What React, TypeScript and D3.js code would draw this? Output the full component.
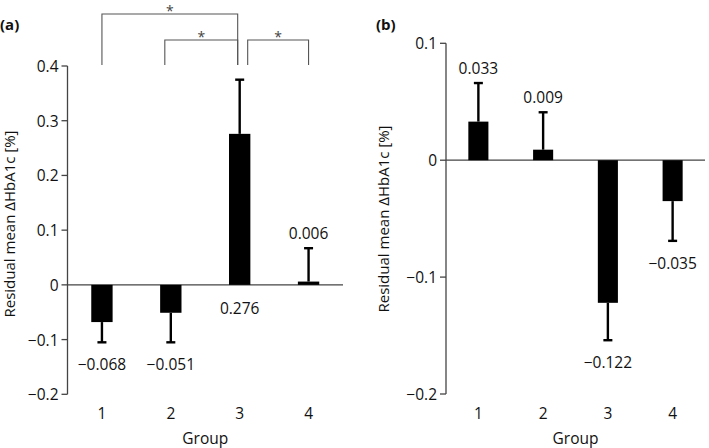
import React from "react";
import * as d3 from "d3";

const groups = ["1", "2", "3", "4"];

const meansA = [-0.068, -0.051, 0.276, 0.006];
const errEndA = [-0.105, -0.105, 0.375, 0.067];
const labelsA = ["−0.068", "−0.051", "0.276", "0.006"];
const ticksA = [-0.2, -0.1, 0, 0.1, 0.2, 0.3, 0.4];

const meansB = [0.033, 0.009, -0.122, -0.035];
const errEndB = [0.066, 0.041, -0.154, -0.069];
const labelsB = ["0.033", "0.009", "−0.122", "−0.035"];
const ticksB = [-0.2, -0.1, 0, 0.1];

const comparisons = [
  { from: "1", to: "3", level: 2 },
  { from: "2", to: "3", level: 1 },
  { from: "3", to: "4", level: 1 },
];

const FONT = "'Open Sans', 'Noto Sans', sans-serif";

function fmtTick(v: number) {
  if (Math.abs(v) < 1e-9) return "0";
  const s = v.toFixed(1);
  return v < 0 ? "−" + s.slice(1) : s;
}

type PanelProps = {
  tag: string;
  tagX: number;
  axisX: number;
  right: number;
  yTop: number;
  yBottom: number;
  domain: [number, number];
  ticks: number[];
  means: number[];
  errEnd: number[];
  labels: string[];
  titleX: number;
  titleY: number;
  labelBelowZero?: number[];
};

function Panel(p: PanelProps) {
  const x = d3.scaleBand<string>().domain(groups).range([p.axisX, p.right]).padding(0);
  const y = d3.scaleLinear().domain(p.domain).range([p.yBottom, p.yTop]);
  const bw = x.bandwidth() * 0.31;
  const cx = (g: string) => (x(g) as number) + x.bandwidth() / 2;
  const y0 = y(0);
  return (
    <g>
      <text x={p.tagX} y={24} fontFamily={FONT} fontWeight="bold" fontSize={15} dominantBaseline="central" fill="#111">
        {p.tag}
      </text>
      <line x1={p.axisX} x2={p.axisX} y1={y(p.domain[1])} y2={y(p.domain[0])} stroke="#444" strokeWidth={1.3} />
      {p.ticks.map((t) => (
        <g key={t}>
          <line x1={p.axisX - 6} x2={p.axisX} y1={y(t)} y2={y(t)} stroke="#444" strokeWidth={1.3} />
          <text x={p.axisX - 9} y={y(t)} textAnchor="end" dominantBaseline="central" fontFamily={FONT} fontSize={15.5} fill="#111">
            {fmtTick(t)}
          </text>
        </g>
      ))}
      <line x1={p.axisX} x2={p.right} y1={y0} y2={y0} stroke="#444" strokeWidth={1.3} />
      {groups.map((g, i) => {
        const v = p.means[i];
        const e = p.errEnd[i];
        const c = cx(g);
        const top = Math.min(y(v), y0);
        const h = Math.max(Math.abs(y(v) - y0), 2);
        const ye = y(e);
        let ly: number;
        if (p.labelBelowZero && p.labelBelowZero.includes(i)) ly = y0 + 23;
        else if (v >= 0) ly = ye - 15;
        else ly = ye + 22;
        return (
          <g key={g}>
            <rect x={c - bw / 2} y={v >= 0 ? top : y0} width={bw} height={h} fill="#000" />
            <line x1={c} x2={c} y1={y(v)} y2={ye} stroke="#000" strokeWidth={2.4} />
            <line x1={c - 4.5} x2={c + 4.5} y1={ye} y2={ye} stroke="#000" strokeWidth={2.4} />
            <text x={c} y={ly} textAnchor="middle" dominantBaseline="central" fontFamily={FONT} fontSize={15.5} fill="#111">
              {p.labels[i]}
            </text>
            <text x={c} y={413} textAnchor="middle" dominantBaseline="central" fontFamily={FONT} fontSize={15.5} fill="#111">
              {g}
            </text>
          </g>
        );
      })}
      <text x={(p.axisX + p.right) / 2} y={438} textAnchor="middle" dominantBaseline="central" fontFamily={FONT} fontSize={15.5} fill="#111">
        Group
      </text>
      <text
        transform={`translate(${p.titleX},${p.titleY}) rotate(-90)`}
        textAnchor="middle"
        dominantBaseline="central"
        fontFamily={FONT}
        fontSize={15}
        fill="#111"
      >
        Residual mean ΔHbA1c [%]
      </text>
    </g>
  );
}

function Brackets({ axisX, right, yLegEnd }: { axisX: number; right: number; yLegEnd: number }) {
  const x = d3.scaleBand<string>().domain(groups).range([axisX, right]).padding(0);
  const cx = (g: string) => (x(g) as number) + x.bandwidth() / 2;
  const levelY = (lvl: number) => (lvl === 2 ? 14 : 40);
  return (
    <g>
      {comparisons.map((c, i) => {
        let x1 = cx(c.from);
        let x2 = cx(c.to);
        if (comparisons.some((o) => o !== c && o.to === c.from)) x1 += 8;
        else if (c.level === 1) x1 -= 6;
        if (comparisons.some((o) => o !== c && o.from === c.to)) x2 -= 2;
        const yt = levelY(c.level);
        return (
          <g key={i}>
            <path d={`M${x1},${yLegEnd}V${yt}H${x2}V${yLegEnd}`} fill="none" stroke="#555" strokeWidth={1.1} />
            <text x={(x1 + x2) / 2} y={yt + 1.5} textAnchor="middle" fontFamily={FONT} fontSize={14} fill="#444">
              *
            </text>
          </g>
        );
      })}
    </g>
  );
}

export default function App() {
  return (
    <svg width={709} height={448} style={{ position: "absolute", left: 0, top: 0, background: "#fff" }}>
      <rect width={709} height={448} fill="#fff" />
      <Panel
        tag="(a)"
        tagX={0}
        axisX={67.5}
        right={343}
        yTop={66}
        yBottom={394.3}
        domain={[-0.2, 0.4]}
        ticks={ticksA}
        means={meansA}
        errEnd={errEndA}
        labels={labelsA}
        titleX={9}
        titleY={224}
        labelBelowZero={[2]}
      />
      <Brackets axisX={67.5} right={343} yLegEnd={65} />
      <Panel
        tag="(b)"
        tagX={376}
        axisX={446}
        right={705}
        yTop={43.3}
        yBottom={394}
        domain={[-0.2, 0.1]}
        ticks={ticksB}
        means={meansB}
        errEnd={errEndB}
        labels={labelsB}
        titleX={383}
        titleY={219}
      />
    </svg>
  );
}
